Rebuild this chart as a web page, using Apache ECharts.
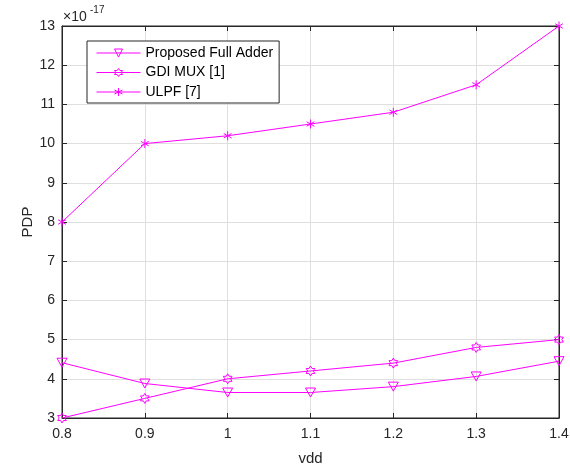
<!DOCTYPE html>
<html>
<head>
<meta charset="utf-8">
<script src="https://cdn.jsdelivr.net/npm/echarts@6/dist/echarts.min.js"></script>
<style>html,body{margin:0;padding:0;background:#fff;}#c{width:570px;height:469px;}</style>
</head>
<body>
<div id="c"></div>
<script>
const vdd = [0.8, 0.9, 1.0, 1.1, 1.2, 1.3, 1.4];
const proposedFA = [4.41, 3.88, 3.65, 3.65, 3.8, 4.06, 4.45];
const gdiMux = [3.0, 3.5, 4.0, 4.2, 4.4, 4.8, 5.0];
const ulpf = [8.0, 10.0, 10.2, 10.5, 10.8, 11.5, 13.0];
const seriesNames = ['Proposed Full Adder', 'GDI MUX [1]', 'ULPF [7]'];

const FONT = '"Liberation Sans", Arial, sans-serif';
const MAG = '#ff00ff';
const AX = '#262626';
const triDown = 'path://M0,0 L10,0 L5,9 Z';
const hexagram = 'path://M10,0 L12.89,5 L18.66,5 L15.77,10 L18.66,15 L12.89,15 L10,20 L7.11,15 L1.34,15 L4.23,10 L1.34,5 L7.11,5 Z';
const asterisk = 'path://M5,0 L5,10 M0.67,2.5 L9.33,7.5 M0.67,7.5 L9.33,2.5';

function mk(name, data, symbol, size) {
  return {
    name: name, type: 'line',
    data: vdd.map((x, i) => [x, data[i]]),
    symbol: symbol, symbolSize: size, symbolKeepAspect: true,
    showAllSymbol: true,
    lineStyle: { color: MAG, width: 1 },
    itemStyle: { color: 'rgba(255,255,255,0)', borderColor: MAG, borderWidth: 1 },
    emphasis: { disabled: true },
    animation: false
  };
}

const chart = echarts.init(document.getElementById('c'));
const tickOpts = { inside: true, length: 5, lineStyle: { color: AX } };
chart.setOption({
  animation: false,
  grid: { left: 62, right: 11, top: 26, bottom: 51, show: true, borderColor: AX, borderWidth: 1, outerBoundsMode: 'none', containLabel: false },
  legend: {
    data: seriesNames, orient: 'vertical', left: 87, top: 41,
    itemWidth: 44, itemHeight: 10, itemGap: 5.5,
    padding: [5, 6, 4, 9],
    borderColor: AX, borderWidth: 1, backgroundColor: '#fff',
    textStyle: { fontFamily: FONT, fontSize: 14, color: '#000' },
    lineStyle: { width: 1, color: MAG },
    itemStyle: { color: 'rgba(255,255,255,0)', borderColor: MAG, borderWidth: 1 },
    symbolKeepAspect: true,
    selectedMode: false
  },
  xAxis: [{
    type: 'value', min: 0.8, max: 1.4, interval: 0.1,
    name: 'vdd', nameLocation: 'middle', nameGap: 33, nameMoveOverlap: false,
    nameTextStyle: { fontFamily: FONT, fontSize: 15, color: AX },
    axisLine: { lineStyle: { color: AX } },
    axisTick: tickOpts,
    axisLabel: { fontFamily: FONT, fontSize: 14, color: AX, margin: 9, formatter: v => String(+v.toFixed(1)) },
    splitLine: { show: true, lineStyle: { color: '#dfdfdf' } }
  }, {
    type: 'value', min: 0.8, max: 1.4, interval: 0.1, position: 'top',
    axisLine: { lineStyle: { color: AX } }, axisTick: tickOpts,
    axisLabel: { show: false }, splitLine: { show: false }
  }],
  yAxis: [{
    type: 'value', min: 3, max: 13, interval: 1,
    name: 'PDP', nameLocation: 'middle', nameGap: 27, nameMoveOverlap: false,
    nameTextStyle: { fontFamily: FONT, fontSize: 15, color: AX },
    axisLine: { show: true, lineStyle: { color: AX } },
    axisTick: tickOpts,
    axisLabel: { fontFamily: FONT, fontSize: 14, color: AX, margin: 7 },
    splitLine: { show: true, lineStyle: { color: '#dfdfdf' } }
  }, {
    type: 'value', min: 3, max: 13, interval: 1, position: 'right',
    axisLine: { show: true, lineStyle: { color: AX } }, axisTick: tickOpts,
    axisLabel: { show: false }, splitLine: { show: false }
  }],
  graphic: [
    { type: 'text', left: 63, top: 10, style: { text: '×10', fontFamily: FONT, fontSize: 14, fill: AX } },
    { type: 'text', left: 90, top: 5, style: { text: '-17', fontFamily: FONT, fontSize: 10, fill: AX } }
  ],
  series: [
    mk(seriesNames[0], proposedFA, triDown, 10),
    mk(seriesNames[1], gdiMux, hexagram, 10),
    mk(seriesNames[2], ulpf, asterisk, 9)
  ]
});
</script>
</body>
</html>
